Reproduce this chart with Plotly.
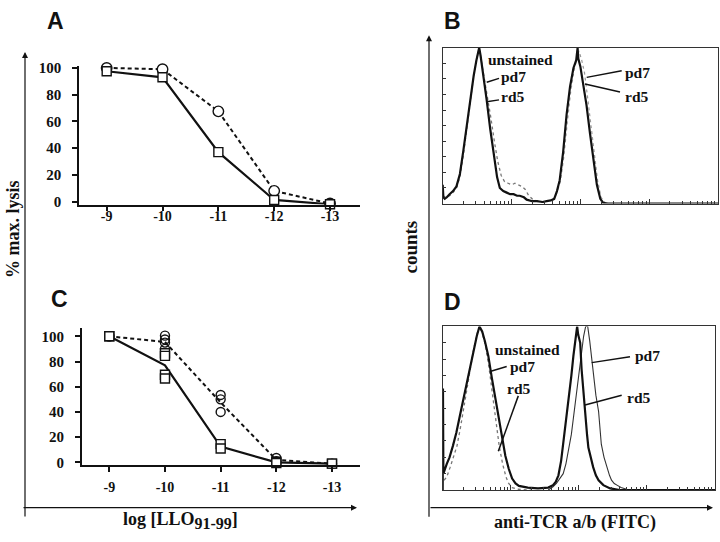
import numpy as np
import plotly.graph_objects as go

W, H = 720, 542

# ---------------- data ----------------
conc = [-9, -10, -11, -12, -13]
conc_labels = ["-9", "-10", "-11", "-12", "-13"]
lysis_ticks = [0, 20, 40, 60, 80, 100]

# Panel A
a_circle = [100, 99, 67.5, 8, -1.5]
a_square = [97.5, 93, 37, 1.2, -2]

# Panel C (replicates + mean lines)
c_circle_x = [-9, -9, -10, -10, -10, -10, -11, -11, -11, -12, -12, -13]
c_circle_y = [100, 100, 100.5, 97.5, 95, 90, 53.5, 50, 40, 3.5, 1, -1]
c_square_x = [-9, -9, -10, -10, -10, -10, -11, -11, -12, -12, -13, -13]
c_square_y = [100, 100, 86.5, 84.5, 69.5, 66.5, 14.5, 11, 0.5, -0.5, -1, -1]
c_circle_mean = [100, 95.5, 47.5, 2, -1]
c_square_mean = [100, 77, 12.5, 0, -1]

# Panel B histograms (x = log10 fluorescence, y = % of max)
b_thick_x = [0.00, 0.01, 0.03, 0.06, 0.10, 0.15, 0.20, 0.25, 0.30, 0.35, 0.40, 0.45, 0.49, 0.52,
             0.53, 0.55, 0.57, 0.61, 0.64, 0.69, 0.74, 0.79, 0.83, 0.88, 0.93, 0.98, 1.03, 1.08,
             1.12, 1.18, 1.22, 1.30, 1.37, 1.45, 1.51, 1.57, 1.62, 1.66, 1.70, 1.75, 1.80, 1.85,
             1.90, 1.94, 1.96, 1.97, 2.00, 2.04, 2.09, 2.14, 2.19, 2.24, 2.29, 2.33, 2.40, 2.60,
             3.00, 4.00]
b_thick_y = [12, 4, 3, 4, 6, 8, 11, 19, 34, 51, 67, 82, 92, 97,
             100, 95, 89, 78, 66, 48, 32, 17, 10, 8, 7, 6, 6, 5,
             5, 4, 2.5, 1.5, 1.5, 1, 1.5, 2, 3, 8, 15, 33, 57, 75,
             87, 92, 100, 93, 88, 78, 63, 45, 28, 12, 3, 0.5, 0, 0,
             0, 0]
b_dotted_x = [0.00, 0.05, 0.10, 0.15, 0.20, 0.25, 0.30, 0.35, 0.40, 0.45, 0.50, 0.53, 0.56, 0.60,
              0.65, 0.70, 0.75, 0.80, 0.85, 0.90, 0.95, 1.00, 1.05, 1.10, 1.15, 1.20, 1.25, 1.30,
              1.40, 1.50]
b_dotted_y = [5, 4, 5, 7, 10, 17, 31, 48, 66, 82, 94, 100, 92, 82,
              70, 55, 40, 27, 18, 14, 13, 12, 13, 12, 11, 9, 5, 3,
              1, 0.5]
b_gray_x = [1.60, 1.66, 1.71, 1.76, 1.81, 1.86, 1.91, 1.95, 1.98, 2.02, 2.06, 2.10, 2.15, 2.20,
            2.25, 2.30, 2.36]
b_gray_y = [2, 7, 14, 30, 52, 72, 86, 94, 98, 92, 84, 70, 52, 33, 15, 4, 0.5]

# Panel D histograms
d_thick_x = [0.000, 0.004, 0.010, 0.06, 0.10, 0.15, 0.20, 0.25, 0.30, 0.35, 0.40, 0.45, 0.50, 0.54,
             0.58, 0.62, 0.67, 0.72, 0.77, 0.82, 0.87, 0.92, 0.97, 1.02, 1.07, 1.12, 1.25, 1.40,
             1.55, 1.62, 1.66, 1.70, 1.74, 1.77, 1.81, 1.85, 1.89, 1.92, 1.95, 1.97, 1.975, 1.99,
             2.02, 2.04, 2.07, 2.09, 2.12, 2.14, 2.18, 2.21, 2.25, 2.29, 2.36, 2.46, 2.60, 4.00]
d_thick_y = [0, 62, 10, 16, 20, 27, 35, 45, 55, 65, 76, 86, 94, 100,
             97, 91, 82, 69, 57, 44, 31, 21, 13, 7, 4, 2.5, 1.5, 1,
             1.5, 3, 5, 9, 18, 28, 40, 54, 70, 82, 92, 98, 100, 95,
             90, 74, 58, 46, 34, 26, 19, 14, 9, 6, 3, 1, 0, 0]
d_dotted_x = [0.02, 0.06, 0.11, 0.16, 0.21, 0.26, 0.31, 0.35, 0.40, 0.45, 0.50, 0.54, 0.58, 0.63,
              0.68, 0.73, 0.78, 0.83, 0.88, 0.93, 0.97, 1.02, 1.10, 1.30]
d_dotted_y = [6, 8, 14, 20, 27, 38, 50, 60, 74, 85, 95, 100, 96, 88,
              75, 60, 43, 27, 16, 8, 4, 1.5, 0.5, 0]
d_thin_x = [1.55, 1.62, 1.67, 1.72, 1.77, 1.81, 1.85, 1.89, 1.92, 1.95, 1.97, 2.00, 2.04, 2.07,
            2.10, 2.13, 2.16, 2.19, 2.21, 2.25, 2.29, 2.33, 2.37, 2.41, 2.45, 2.48, 2.52, 2.56,
            2.62, 2.70, 2.80]
d_thin_y = [0, 2, 4, 7, 10, 16, 24, 34, 44, 54, 64, 72, 84, 94,
            100, 100, 91, 80, 70, 58, 48, 28, 20, 14, 9, 6, 4, 3,
            1.5, 0.5, 0]

decades = [0, 1, 2, 3, 4]

# ---------------- helpers ----------------
def px(x):
    return x / W

def py(y):
    return 1 - y / H

SERIF = "Liberation Serif"
SANS = "Liberation Sans"
BLACK = "#111111"

fig = go.Figure()

circle_marker = dict(symbol="circle-open", color=BLACK, size=10.5, line=dict(width=1.4, color=BLACK))
square_marker = dict(symbol="square", color="white", size=9, line=dict(width=1.4, color=BLACK))

# Panel A
fig.add_trace(go.Scatter(x=conc, y=a_circle, mode="lines+markers", xaxis="x", yaxis="y",
                         line=dict(color=BLACK, width=2, dash="4px,3px"), marker=dict(circle_marker, symbol="circle", color="white"),
                         cliponaxis=False, showlegend=False))
fig.add_trace(go.Scatter(x=conc, y=a_square, mode="lines+markers", xaxis="x", yaxis="y",
                         line=dict(color=BLACK, width=2.2), marker=square_marker,
                         cliponaxis=False, showlegend=False))

# Panel C
fig.add_trace(go.Scatter(x=conc, y=c_circle_mean, mode="lines", xaxis="x2", yaxis="y2",
                         line=dict(color=BLACK, width=2, dash="4px,3px"), cliponaxis=False, showlegend=False))
fig.add_trace(go.Scatter(x=conc, y=c_square_mean, mode="lines", xaxis="x2", yaxis="y2",
                         line=dict(color=BLACK, width=2.2), cliponaxis=False, showlegend=False))
fig.add_trace(go.Scatter(x=c_circle_x, y=c_circle_y, mode="markers", xaxis="x2", yaxis="y2",
                         marker=dict(circle_marker, size=9), cliponaxis=False, showlegend=False))
fig.add_trace(go.Scatter(x=c_square_x, y=c_square_y, mode="markers", xaxis="x2", yaxis="y2",
                         marker=square_marker, cliponaxis=False, showlegend=False))

# Panel B
fig.add_trace(go.Scatter(x=b_dotted_x, y=b_dotted_y, mode="lines", xaxis="x3", yaxis="y3",
                         line=dict(color="#777777", width=1.3, dash="dot"), showlegend=False))
fig.add_trace(go.Scatter(x=b_gray_x, y=b_gray_y, mode="lines", xaxis="x3", yaxis="y3",
                         line=dict(color="#999999", width=1.2, dash="dot"), showlegend=False))
fig.add_trace(go.Scatter(x=b_thick_x, y=b_thick_y, mode="lines", xaxis="x3", yaxis="y3",
                         line=dict(color=BLACK, width=2.2), showlegend=False))

# Panel D
fig.add_trace(go.Scatter(x=d_dotted_x, y=d_dotted_y, mode="lines", xaxis="x4", yaxis="y4",
                         line=dict(color="#777777", width=1.3, dash="dot"), showlegend=False))
fig.add_trace(go.Scatter(x=d_thin_x, y=d_thin_y, mode="lines", xaxis="x4", yaxis="y4",
                         line=dict(color="#333333", width=1.1), showlegend=False))
fig.add_trace(go.Scatter(x=d_thick_x, y=d_thick_y, mode="lines", xaxis="x4", yaxis="y4",
                         line=dict(color=BLACK, width=2.2), showlegend=False))

xtickfont = dict(family=SERIF, size=14, color=BLACK, weight="bold")
ytickfont = dict(family=SERIF, size=15, color=BLACK, weight="bold")

def lysis_x(domain, rng, standoff):
    return dict(domain=domain, range=rng, tickvals=conc, ticktext=conc_labels, ticks="outside",
                ticklen=5, tickwidth=1.5, tickcolor=BLACK, showline=True, linewidth=1.5,
                linecolor=BLACK, showgrid=False, zeroline=False, tickfont=xtickfont,
                ticklabelstandoff=standoff, fixedrange=True)

def lysis_y(domain, rng, anchor):
    return dict(domain=domain, range=rng, tickvals=lysis_ticks, ticks="outside", ticklen=5,
                tickwidth=1.5, tickcolor=BLACK, showline=True, linewidth=1.5, linecolor=BLACK,
                showgrid=False, zeroline=False, tickfont=ytickfont, ticklabelstandoff=8,
                anchor=anchor)

minor_vals = [float(np.log10(k)) + d for d in range(4) for k in range(2, 10)]

def hist_x(domain, anchor):
    return dict(domain=domain, range=[0, 4], tickvals=decades, ticks="inside", ticklen=5,
                tickcolor="#333333", showticklabels=False, showline=True, mirror=True,
                linewidth=1, linecolor="#333333", showgrid=False, zeroline=False,
                minor=dict(tickvals=minor_vals, ticks="inside", ticklen=3, tickcolor="#333333"),
                anchor=anchor)

def hist_y(domain, anchor):
    return dict(domain=domain, range=[0, 100], dtick=10, ticks="inside", ticklen=3,
                tickcolor="#333333", showticklabels=False, showline=True, mirror=True,
                linewidth=1, linecolor="#333333", showgrid=False, zeroline=False, anchor=anchor)

fig.update_layout(
    width=W, height=H, margin=dict(l=0, r=0, t=0, b=0),
    paper_bgcolor="white", plot_bgcolor="rgba(0,0,0,0)",
    xaxis=lysis_x([px(79), px(360)], [-8.504, -13.537], -7),
    yaxis=lysis_y([py(203), py(61.7)], [-2.2, 101.2], "x"),
    xaxis2=dict(lysis_x([px(81.7), px(360)], [-8.504, -13.503], 4), anchor="y2"),
    yaxis2=lysis_y([py(469.3), py(329)], [-2, 106.8], "x2"),
    xaxis3=hist_x([px(442.7), px(718)], "y3"),
    yaxis3=hist_y([py(202), py(42.7)], "x3"),
    xaxis4=hist_x([px(442.7), px(715)], "y4"),
    yaxis4=hist_y([py(495), py(327.7)], "x4"),
)
fig.layout.xaxis.anchor = "y"

ann = []
def text(x, y, s, size, family=SERIF, bold=True, angle=0, xanchor="center"):
    ann.append(dict(x=px(x), y=py(y), xref="paper", yref="paper", text=f"<b>{s}</b>" if bold else s,
                    showarrow=False, textangle=angle, xanchor=xanchor, yanchor="middle",
                    font=dict(family=family, size=size, color=BLACK)))

def arrow(x_tip, y_tip, x_tail, y_tail):
    ann.append(dict(x=px(x_tip), y=py(y_tip), xref="paper", yref="paper", text="",
                    showarrow=True, ax=x_tail - x_tip, ay=y_tail - y_tip, axref="pixel", ayref="pixel",
                    arrowhead=2, arrowsize=1, arrowwidth=1.2, arrowcolor=BLACK, standoff=0, startstandoff=0))

# panel letters
text(55, 15, "A", 23, SANS)
text(452, 15, "B", 23, SANS)
text(59, 300, "C", 23, SANS)
text(452, 303, "D", 23, SANS)

# axis titles
text(13, 228, "% max. lysis", 18, angle=-90)
text(180, 526, "log [LLO<sub><span style='font-size:16px'>91-99</span></sub>]", 18)
text(411, 247, "counts", 19, angle=-90)
text(575, 528, "anti-TCR a/b (FITC)", 18)

# big arrows
arrow(25, 47, 25, 513)
arrow(357, 513, 22, 513)
arrow(429, 30, 429, 513)
arrow(713, 513, 429, 513)

# histogram labels
text(486, 55, "unstained", 15.5, xanchor="left")
text(499, 72, "pd7", 15.5, xanchor="left")
text(499, 93, "rd5", 15.5, xanchor="left")
text(623, 68, "pd7", 15.5, xanchor="left")
text(623, 93, "rd5", 15.5, xanchor="left")
text(493, 351, "unstained", 15.5, xanchor="left")
text(508, 369, "pd7", 15.5, xanchor="left")
text(505, 391, "rd5", 15.5, xanchor="left")
text(633, 357, "pd7", 15.5, xanchor="left")
text(625, 400, "rd5", 15.5, xanchor="left")

shapes = []
def seg(x0, y0, x1, y1):
    shapes.append(dict(type="line", xref="paper", yref="paper", x0=px(x0), y0=py(y0),
                       x1=px(x1), y1=py(y1), line=dict(color=BLACK, width=1.5)))

seg(486.7, 78, 499, 74)
seg(486.7, 98, 499, 96)
seg(586.7, 73, 621.7, 66.3)
seg(585, 79.7, 620, 88)
seg(490, 373.7, 506.7, 368.7)
seg(518.3, 398.7, 498.3, 455.3)
seg(591.7, 364.7, 630, 358.7)
seg(585, 408, 621.7, 398)

fig.update_layout(annotations=ann, shapes=shapes)
fig.write_html("out.html", config={"displayModeBar": False},
               post_script="document.body.style.margin='0';document.body.style.padding='0';")
